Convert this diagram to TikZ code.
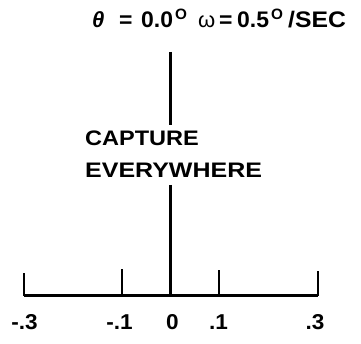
\documentclass[tikz,border=0pt]{standalone}
\usepackage{fontspec}
\setmainfont{Liberation Sans}
\newfontfamily\capAfont{Liberation Sans}[FakeStretch=1.12]
\newfontfamily\capBfont{Liberation Sans}[FakeStretch=1.19]
\newfontfamily\titfont{Liberation Sans}[FakeStretch=1.02]
\newfontfamily\secfont{Liberation Sans}[FakeStretch=1.1]
\newfontfamily\numfont{Liberation Sans}[FakeStretch=1.05]
\begin{document}
\begin{tikzpicture}[x=1pt,y=-1pt,
  lbl/.style={inner sep=0pt,anchor=base,font=\fontsize{21.5}{21.5}\numfont\bfseries},
  tit/.style={inner sep=0pt,anchor=base west,font=\fontsize{22.5}{22.5}\titfont\bfseries},
  sup/.style={inner sep=0pt,anchor=base west,font=\fontsize{15}{15}\titfont\bfseries},
  axisline/.style={line width=3pt},
  tickline/.style={line width=2.4pt}]
\useasboundingbox (0,0) rectangle (361,344);
% title pieces
\node[tit,font=\fontsize{22}{22}\selectfont\bfseries\itshape] (th) at (92,28) {θ};
\node[tit] (eq1) at (119,28) {=};
\node[tit] (v1) at (141,28) {0.0};
\node[sup] (s1) at (175,20) {O};
\node[tit,font=\fontsize{22}{22}\selectfont] (om) at (198,28) {ω};
\node[tit] (eq2) at (219,28) {=};
\node[tit] (v2) at (237,28) {0.5};
\node[sup] (s2) at (271,20) {O};
\node[tit,font=\fontsize{22.5}{22.5}\secfont\bfseries] (sec) at (288,28) {/SEC};
% captions
\node[inner sep=0pt,anchor=base west,font=\fontsize{21}{21}\capAfont\bfseries] (c1) at (85,146) {CAPTURE};
\node[inner sep=0pt,anchor=base west,font=\fontsize{21}{21}\capBfont\bfseries] (c2) at (85,178) {EVERYWHERE};
% axis coordinates
\coordinate (L) at (24,296);
\coordinate (R) at (318,296);
\coordinate (Z) at (170,296);
\coordinate (ztop) at (170,52);
\coordinate (zmid1) at (170,125);
\coordinate (zmid2) at (170,185);
\coordinate (m1) at (122,296);
\coordinate (p1) at (219,296);
\coordinate (Ltop) at (24,273);
\coordinate (m1top) at (122,269);
\coordinate (p1top) at (219,270);
\coordinate (Rtop) at (318,271);
\draw[axisline] (L) -- (R);
\draw[axisline] (ztop) -- (zmid1);
\draw[axisline] (zmid2) -- (Z);
\draw[tickline] (L) -- (Ltop);
\draw[tickline] (m1) -- (m1top);
\draw[tickline] (p1) -- (p1top);
\draw[tickline] (R) -- (Rtop);
% labels
\node[lbl] (lm3) at (24.5,329) {-.3};
\node[lbl] (lm1) at (119.5,329) {-.1};
\node[lbl] (l0) at (172.5,329) {0};
\node[lbl] (lp1) at (218.5,329) {.1};
\node[lbl] (lp3) at (315,329) {.3};
\end{tikzpicture}
\end{document}
